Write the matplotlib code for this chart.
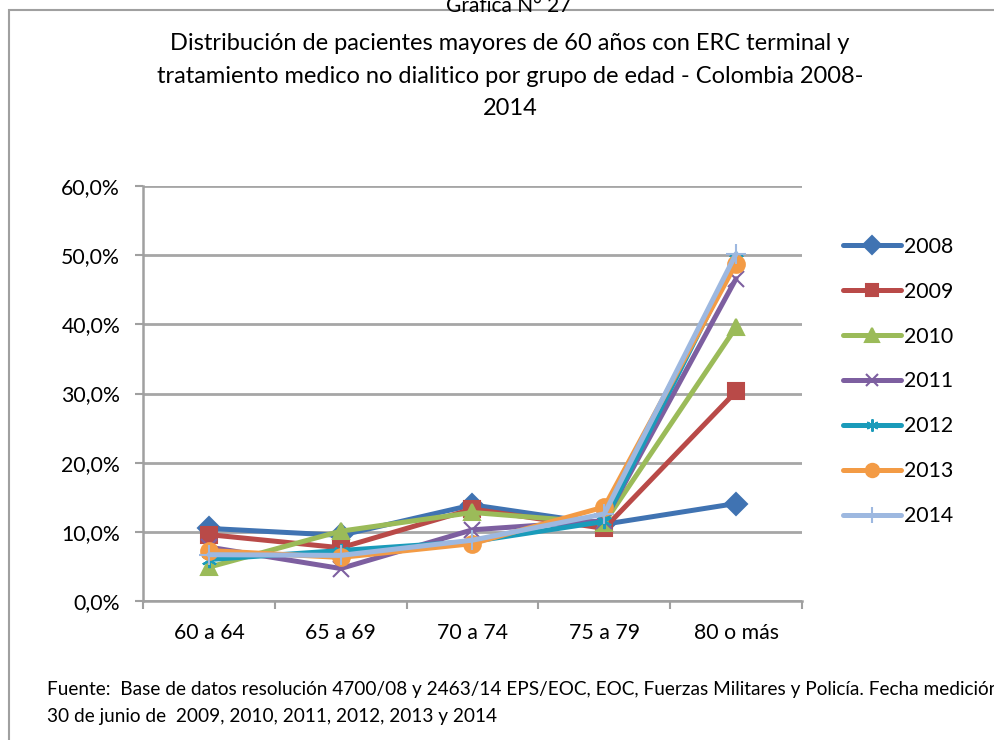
import numpy as np
import matplotlib
matplotlib.use("Agg")
import matplotlib.pyplot as plt
from matplotlib.patches import Rectangle

plt.rcParams['font.family'] = ['Lato', 'DejaVu Sans']

# Datos
grupos = ["60 a 64", "65 a 69", "70 a 74", "75 a 79", "80 o más"]
anios = ["2008", "2009", "2010", "2011", "2012", "2013", "2014"]
v2008 = [10.5, 9.5, 13.9, 11.1, 14.1]
v2009 = [9.6, 7.7, 13.3, 10.5, 30.3]
v2010 = [4.9, 10.1, 12.8, 11.3, 39.6]
v2011 = [7.8, 4.7, 10.3, 11.6, 46.6]
v2012 = [6.0, 7.3, 8.6, 11.5, 49.5]
v2013 = [7.3, 6.3, 8.3, 13.6, 48.8]
v2014 = [6.7, 6.6, 8.8, 12.6, 50.2]
series = [v2008, v2009, v2010, v2011, v2012, v2013, v2014]

colores = ["#4073B2", "#B94A48", "#9BBB59", "#7D5FA0", "#1A9BBA", "#F39B45", "#9DB8E0"]
marcadores = ["D", "s", "^", "x", (6, 2, 0), "o", "+"]
tamanos = [11, 11, 12, 11, 11, 12, 14]

fig = plt.figure(figsize=(9.94, 7.40), dpi=100)
ax = fig.add_axes([0.1439, 0.1878, 0.6629, 0.5608])

x = np.arange(len(grupos))
for vals, lab, c, m, ms in zip(series, anios, colores, marcadores, tamanos):
    ax.plot(x, np.array(vals) / 100, color=c, lw=3.6, marker=m, ms=ms,
            mew=1.5, label=lab, solid_joinstyle='round', solid_capstyle='round')

ax.set_xlim(-0.5, 4.5)
ax.set_ylim(0, 0.6)
ax.set_yticks(np.arange(0, 0.61, 0.1))
ax.set_yticklabels([f"{v:.1f}%".replace(".", ",") for v in np.arange(0, 61, 10)])
ax.set_xticks(x)
ax.set_xticklabels(grupos)
ax.set_xticks(np.arange(-0.5, 4.6, 1), minor=True)
ax.tick_params(axis='x', which='major', length=0, pad=16, labelsize=15.3)
ax.tick_params(axis='x', which='minor', length=5.5, color="#A0A0A0", width=1.5)
ax.tick_params(axis='y', length=5.5, color="#A0A0A0", width=1.5, pad=11, labelsize=15.3)
ax.grid(axis='y', color="#A6A6A6", lw=2)
ax.set_axisbelow(True)
for s in ["top", "right"]:
    ax.spines[s].set_visible(False)
for s in ["left", "bottom"]:
    ax.spines[s].set_color("#A0A0A0")
    ax.spines[s].set_linewidth(1.8)

ax.legend(loc="upper left", bbox_to_anchor=(1.05, 0.898), frameon=False,
          fontsize=15.3, handlelength=2.7, labelspacing=1.17, handletextpad=0.15,
          borderaxespad=0.0, markerscale=0.8)

fig.text(0.513, 0.955, "Distribución de pacientes mayores de 60 años con ERC terminal y\n"
         "tratamiento medico no dialitico por grupo de edad - Colombia 2008-\n2014",
         ha="center", va="top", fontsize=17, linespacing=1.68)

fig.text(0.512, 0.992, "Gráfica N° 27", ha="center", va="center", fontsize=15)

fig.text(0.047, 0.05, "Fuente:  Base de datos resolución 4700/08 y 2463/14 EPS/EOC, EOC, Fuerzas Militares y Policía. Fecha medición\n"
         "30 de junio de  2009, 2010, 2011, 2012, 2013 y 2014",
         ha="left", va="center", fontsize=13.7, linespacing=1.67)

fig.patches.append(Rectangle((0.009, -0.1), 1.2, 0.1 + 0.986, transform=fig.transFigure,
                             fill=False, edgecolor="#A0A0A0", lw=1.5))

fig.savefig("out.png", dpi=100)
